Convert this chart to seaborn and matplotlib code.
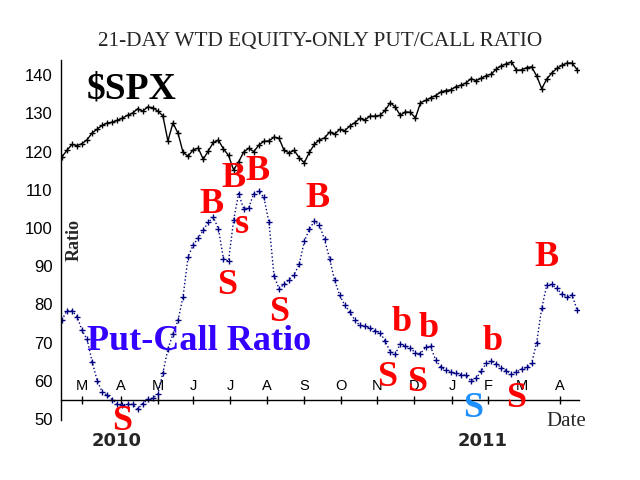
import matplotlib
matplotlib.use("Agg")
import matplotlib.pyplot as plt
import numpy as np
import pandas as pd
import seaborn as sns

# trading sessions on the chart, one reading every third session
trading_days = pd.bdate_range("2010-02-11", "2011-04-19")
dates = trading_days[::3]

spx = [
    118.6, 120.3, 121.9, 121.6, 122.1, 123.1, 124.9, 125.9, 126.9, 127.5,
    127.7, 128.2, 128.8, 129.5, 130.1, 131.2, 130.6, 131.7, 131.5, 130.6,
    129.4, 122.8, 127.5, 124.8, 119.8, 118.8, 120.5, 120.9, 118.0, 120.2,
    122.4, 123.0, 120.7, 119.0, 115.2, 117.3, 119.9, 120.9, 120.0, 121.7,
    122.7, 122.8, 123.8, 123.5, 120.3, 119.7, 120.3, 118.4, 117.1, 119.8,
    121.9, 123.1, 123.6, 125.1, 124.6, 125.8, 125.5, 126.7, 127.6, 128.7,
    128.3, 129.3, 129.3, 129.5, 130.8, 132.8, 131.7, 129.5, 130.4, 130.3,
    128.8, 132.8, 133.4, 134.1, 134.7, 135.6, 136.0, 136.2, 137.0, 137.4,
    138.0, 139.1, 138.6, 139.2, 139.9, 140.3, 141.6, 142.5, 143.0, 143.5,
    141.3, 141.4, 142.0, 142.2, 139.8, 136.5, 139.0, 140.6, 141.8, 142.6,
    143.2, 143.2, 141.5,
]

put_call = [
    75.9, 78.3, 78.3, 76.8, 73.2, 70.8, 65.0, 60.0, 57.0, 56.2,
    55.0, 53.9, 53.7, 53.8, 53.8, 52.6, 54.0, 55.1, 55.4, 56.5,
    62.0, 68.3, 72.2, 75.8, 82.0, 92.5, 95.5, 97.4, 99.4, 101.5,
    102.8, 99.8, 91.9, 91.3, 102.0, 109.0, 105.0, 105.3, 109.0, 109.7,
    108.0, 101.5, 87.5, 84.1, 85.3, 86.5, 87.8, 90.5, 96.5, 99.7,
    101.8, 100.8, 97.0, 92.0, 86.3, 82.4, 79.8, 78.0, 75.9, 74.5,
    74.2, 73.8, 73.0, 72.6, 70.4, 67.6, 67.0, 69.6, 69.1, 68.6,
    67.2, 67.1, 68.7, 69.0, 65.4, 63.6, 62.7, 62.2, 62.0, 61.6,
    61.4, 60.0, 60.6, 62.5, 64.5, 65.2, 64.4, 63.4, 62.6, 61.8,
    62.3, 63.0, 63.5, 64.5, 70.0, 79.0, 85.0, 85.2, 84.2, 82.6,
    81.9, 82.5, 78.5,
]

# buy / sell signal letters: label, date, baseline level, colour
signal_labels = ["S", "B", "S", "B", "s", "B", "S", "B",
                 "S", "b", "S", "b", "S", "b", "S", "B"]
signal_dates = ["2010-04-02", "2010-06-16", "2010-06-29", "2010-07-05",
                "2010-07-12", "2010-07-23", "2010-08-11", "2010-09-13",
                "2010-11-09", "2010-11-22", "2010-12-03", "2010-12-14",
                "2011-01-19", "2011-02-04", "2011-02-24", "2011-03-22"]
signal_levels = [47.1, 104.0, 82.7, 110.8, 98.6, 112.6, 75.7, 105.6,
                 58.5, 73.1, 57.4, 71.4, 50.6, 68.1, 53.1, 90.1]
signal_colors = ["red"] * 12 + ["#1e8fff"] + ["red"] * 3

sns.set_style("white")
plt.rcParams["font.family"] = ["Liberation Sans", "DejaVu Sans"]

df = pd.DataFrame({
    "day": trading_days.get_indexer(dates),
    "spx": spx,
    "put_call": put_call,
})

fig = plt.figure(figsize=(6.4, 4.8), dpi=100)
ax = fig.add_axes([0.0953, 0.125, 0.809, 0.75])

sns.lineplot(data=df, x="day", y="spx", ax=ax, color="black", linewidth=1.0,
             marker="+", markersize=4, markeredgewidth=1.0,
             markeredgecolor="black")
sns.lineplot(data=df, x="day", y="put_call", ax=ax, color="#000080",
             linewidth=1.0, linestyle=":", marker="+", markersize=4.5,
             markeredgewidth=1.0, markeredgecolor="#000080")

ax.set_xlim(-0.5, 307)
ax.set_ylim(49.7, 144)
ax.set_yticks(np.arange(50, 141, 10))
ax.set_xlabel("")
ax.set_ylabel("")

# month axis drawn as a line across the chart at 55
month_starts = trading_days.to_series().groupby(trading_days.to_period("M")).first()[1:]
ax.set_xticks(trading_days.get_indexer(month_starts))
ax.set_xticklabels([d.strftime("%b")[0] for d in month_starts])
ax.spines["top"].set_position(("data", 55))
ax.spines[["right", "bottom"]].set_visible(False)
for side in ("left", "top"):
    ax.spines[side].set_color("black")
    ax.spines[side].set_linewidth(1)
ax.xaxis.set_ticks_position("top")
ax.tick_params(axis="x", direction="inout", length=6, width=1, pad=2,
               labelsize=10.5, colors="black")
ax.tick_params(axis="y", direction="in", length=3, width=1, pad=6,
               labelsize=12, colors="black")

for lab, d, lvl, col in zip(signal_labels, signal_dates, signal_levels, signal_colors):
    ax.text(trading_days.get_loc(pd.Timestamp(d)), lvl, lab, color=col,
            family="Liberation Serif", weight="bold", fontsize=26,
            ha="center", va="baseline", clip_on=False)

ax.text(15, 134.0, "$SPX", family="Liberation Serif", weight="bold",
        fontsize=27, color="black", ha="left", va="baseline")
ax.text(15, 68.1, "Put-Call Ratio", family="Liberation Serif", weight="bold",
        fontsize=26, color="#3300ff", ha="left", va="baseline")
ax.text(7.2, 96.9, "Ratio", family="Liberation Serif", weight="bold",
        fontsize=13, rotation=90, ha="center", va="center")
ax.text(299.5, 48.0, "Date", family="Liberation Serif", fontsize=15,
        ha="center", va="baseline", clip_on=False)
for year, pos in (("2010", 32.8), ("2011", 249.7)):
    ax.text(pos, 42.9, year, family="DejaVu Sans", weight="bold",
            fontsize=13, ha="center", va="baseline", clip_on=False)

fig.text(0.5, 0.904, "21-DAY WTD EQUITY-ONLY PUT/CALL RATIO",
         family="Liberation Serif", fontsize=15.3, ha="center", va="baseline")

fig.savefig("out.png", dpi=100, facecolor="white")
